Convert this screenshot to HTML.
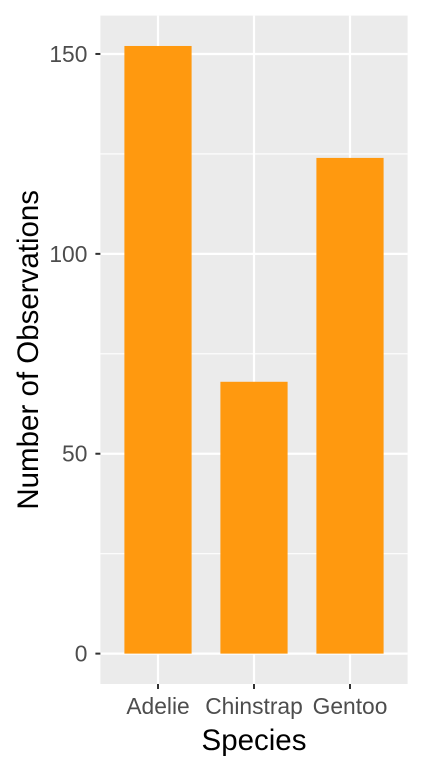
<!DOCTYPE html>
<html><head><meta charset="utf-8"><style>body{margin:0;background:#fff}svg{display:block}text{font-family:"Liberation Sans",Arial,sans-serif}</style></head>
<body>
<svg id="chart" width="422" height="768" xmlns="http://www.w3.org/2000/svg"></svg>
<script>
const categories = ["Adelie","Chinstrap","Gentoo"];
const counts = [152, 68, 124];
const yTicks = [0, 50, 100, 150];
const yMinor = [25, 75, 125];

const NS = "http://www.w3.org/2000/svg";
const svg = document.getElementById('chart');
const pL = 100.4, pR = 407.6, pT = 15.6, pB = 684;
const yMax = Math.max(...counts);
const yLo = -0.05*yMax, yHi = yMax*1.05;
function y(v){ return pB - (v - yLo)/(yHi - yLo)*(pB - pT); }
const n = categories.length;
const step = (pR - pL)/(n - 1 + 1.2);
function x(i){ return pL + step*(0.6 + i); }
function mk(tag, attrs, parent){ const e = document.createElementNS(NS, tag); for (const k in attrs) e.setAttribute(k, attrs[k]); (parent||svg).appendChild(e); return e; }

const bg = mk('rect', {x:pL, y:pT, width:pR-pL, height:pB-pT, fill:'#ebebeb'});


yMinor.forEach(v => { const l = mk('line', {x1:pL, x2:pR, y1:y(v), y2:y(v), stroke:'#fff', 'stroke-width':1.1});
    });
yTicks.forEach(v => { const l = mk('line', {x1:pL, x2:pR, y1:y(v), y2:y(v), stroke:'#fff', 'stroke-width':2.2});
    });
categories.forEach((c, i) => { const l = mk('line', {x1:x(i), x2:x(i), y1:pT, y2:pB, stroke:'#fff', 'stroke-width':2.2});
    });

const bw = step*0.7;
categories.forEach((c, i) => {
  const r = mk('rect', {x:x(i)-bw/2, y:y(counts[i]), width:bw, height:y(0)-y(counts[i]), fill:'#ff990f'});
  
  
  const t = mk('line', {x1:x(i), x2:x(i), y1:pB, y2:pB+5, stroke:'#333', 'stroke-width':2});
   
  const lb = mk('text', {x:x(i), y:pB+30, 'text-anchor':'middle', 'font-size':22.8, fill:'#4d4d4d'});
  lb.textContent = c;
   
});
yTicks.forEach(v => {
  const t = mk('line', {x1:pL-5, x2:pL, y1:y(v), y2:y(v), stroke:'#333', 'stroke-width':2});
   
  const lb = mk('text', {x:pL-13, y:y(v)+8, 'text-anchor':'end', 'font-size':22.8, fill:'#4d4d4d'});
  lb.textContent = v;
   
});
const xt = mk('text', {x:(pL+pR)/2, y:750, 'text-anchor':'middle', 'font-size':29.5, fill:'#000'});
xt.textContent = 'Species';
 
const yt = mk('text', {x:0, y:0, 'text-anchor':'middle', 'font-size':29.5, fill:'#000', transform:`translate(38,${(pT+pB)/2}) rotate(-90)`});
yt.textContent = 'Number of Observations';
 
</script>
</body></html>
